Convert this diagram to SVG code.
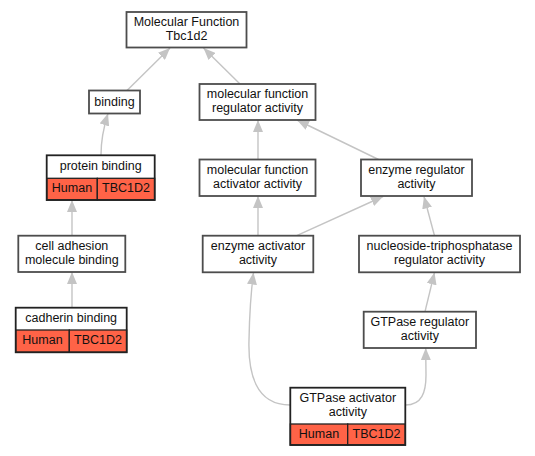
<svg xmlns="http://www.w3.org/2000/svg" width="535" height="456" viewBox="0 0 535 456">
<defs>
<style>
.box{fill:#ffffff;stroke:#4d4d4d;stroke-width:1.8}
.red{fill:#ff6347;stroke:#222;stroke-width:1.3}
.t{font-family:"Liberation Sans",Arial,sans-serif;font-size:12.5px;fill:#111;text-anchor:middle}
.e{fill:none;stroke:#c4c4c4;stroke-width:1.4;marker-end:url(#ah)}
</style>
<marker id="ah" markerUnits="userSpaceOnUse" markerWidth="12" markerHeight="10" refX="12" refY="5" orient="auto">
<path d="M0,0 L12,5 L0,10 z" fill="#c4c4c4"/>
</marker>
</defs>
<rect width="535" height="456" fill="#ffffff"/>
<g id="connectors">
<path class="e" d="M127,90.5 L170,48"/>
<path class="e" d="M240,84 L203.5,48"/>
<path class="e" d="M101,155 C101,140 104,126 108,113.5"/>
<path class="e" d="M72,235.7 L72,200"/>
<path class="e" d="M72,307.7 L72,272"/>
<path class="e" d="M258,159.5 L258,120"/>
<path class="e" d="M378.5,159.5 L297,120"/>
<path class="e" d="M258,235.7 L258,196"/>
<path class="e" d="M296.7,235.7 L383,196.5"/>
<path class="e" d="M434.5,235.7 L424,196.5"/>
<path class="e" d="M425,311.7 L434.5,272.5"/>
<path class="e" d="M290,405 C255,405 248,372 249,340 C249.5,312 251,292 253.5,272.5"/>
<path class="e" d="M405.5,405 C422,405 426,392 426,375 L425.7,348"/>
</g>
<g id="n_mf">
<rect class="box" x="126.5" y="12" width="120" height="35.5"/>
<text class="t" x="186.5" y="26">Molecular Function</text>
<text class="t" x="186.5" y="40">Tbc1d2</text>
</g>
<g id="n_binding">
<rect class="box" x="89" y="90.5" width="51" height="23"/>
<text class="t" x="114.5" y="106">binding</text>
</g>
<g id="n_mfra">
<rect class="box" x="199.5" y="84" width="116" height="36"/>
<text class="t" x="257.5" y="98">molecular function</text>
<text class="t" x="257.5" y="112">regulator activity</text>
</g>
<g id="n_protein_binding">
<rect x="46.7" y="155.3" width="108" height="23" fill="#ffffff"/>
<rect class="red" x="46.7" y="178.3" width="50.6" height="21.7"/>
<rect class="red" x="97.3" y="178.3" width="57.4" height="21.7"/>
<rect x="46.7" y="155.3" width="108" height="44.7" fill="none" stroke="#222" stroke-width="1.8"/>
<text class="t" x="100.7" y="170">protein binding</text>
<text class="t" x="72" y="192">Human</text>
<text class="t" x="126" y="192">TBC1D2</text>
</g>
<g id="n_mfaa">
<rect class="box" x="199.5" y="159.5" width="116" height="36.5"/>
<text class="t" x="257.5" y="174">molecular function</text>
<text class="t" x="257.5" y="188">activator activity</text>
</g>
<g id="n_era">
<rect class="box" x="361" y="159.5" width="111" height="36.5"/>
<text class="t" x="416.5" y="174">enzyme regulator</text>
<text class="t" x="416.5" y="188">activity</text>
</g>
<g id="n_cell_adhesion">
<rect class="box" x="18.3" y="235.7" width="107" height="36.3"/>
<text class="t" x="71.8" y="250">cell adhesion</text>
<text class="t" x="71.8" y="264">molecule binding</text>
</g>
<g id="n_eaa">
<rect class="box" x="202.7" y="235.7" width="110.6" height="36.6"/>
<text class="t" x="258" y="250">enzyme activator</text>
<text class="t" x="258" y="264">activity</text>
</g>
<g id="n_ntra">
<rect class="box" x="359" y="235.7" width="161" height="36.6"/>
<text class="t" x="439.5" y="250">nucleoside-triphosphatase</text>
<text class="t" x="439.5" y="264">regulator activity</text>
</g>
<g id="n_cadherin">
<rect x="15.7" y="307.7" width="111" height="22.3" fill="#ffffff"/>
<rect class="red" x="15.7" y="330" width="53.6" height="22.3"/>
<rect class="red" x="69.3" y="330" width="57.4" height="22.3"/>
<rect x="15.7" y="307.7" width="111" height="44.6" fill="none" stroke="#222" stroke-width="1.8"/>
<text class="t" x="71.2" y="322">cadherin binding</text>
<text class="t" x="42.5" y="344">Human</text>
<text class="t" x="98" y="344">TBC1D2</text>
</g>
<g id="n_gtpase_reg">
<rect class="box" x="363.7" y="311.7" width="112.3" height="36.3"/>
<text class="t" x="419.8" y="326">GTPase regulator</text>
<text class="t" x="419.8" y="340">activity</text>
</g>
<g id="n_gaa">
<rect x="290.3" y="387.7" width="115" height="36.3" fill="#ffffff"/>
<rect class="red" x="290.3" y="424" width="57.4" height="21"/>
<rect class="red" x="347.7" y="424" width="57.6" height="21"/>
<rect x="290.3" y="387.7" width="115" height="57.3" fill="none" stroke="#222" stroke-width="1.8"/>
<text class="t" x="347.8" y="401.5">GTPase activator</text>
<text class="t" x="347.8" y="415.5">activity</text>
<text class="t" x="319" y="437.5">Human</text>
<text class="t" x="376.5" y="437.5">TBC1D2</text>
</g>
</svg>
